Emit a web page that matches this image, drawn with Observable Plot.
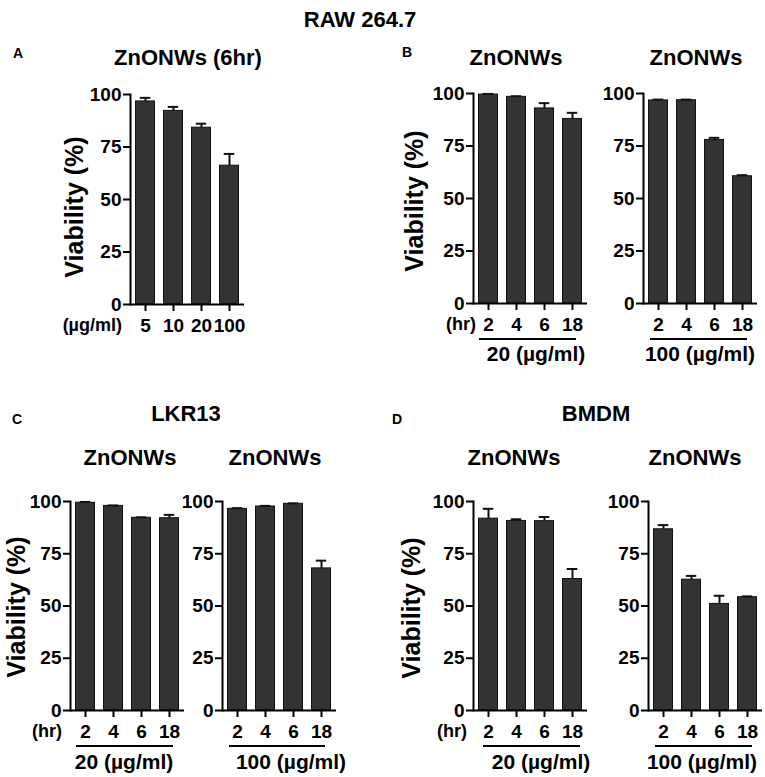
<!DOCTYPE html>
<html>
<head>
<meta charset="utf-8">
<script src="https://cdn.jsdelivr.net/npm/d3@7"></script>
<script src="https://cdn.jsdelivr.net/npm/@observablehq/plot@0.6"></script>
<style>
  body { margin: 0; background: #fff; }
  #fig { position: relative; width: 765px; height: 777px; background: #fff; overflow: hidden; }
  #fig svg { position: absolute; margin: 0; }
</style>
</head>
<body>
<div id="fig"></div>
<script>
// ---------- data ----------
const concLabels = ["5", "10", "20", "100"];          // µg/ml
const hourLabels = ["2", "4", "6", "18"];             // hr

const rawConcMean = [96.7, 92.2, 84.2, 66.1];
const rawConcSd   = [1.7, 1.9, 1.9, 5.6];

const raw20Mean  = [99.5, 98.4, 92.9, 87.9];
const raw20Sd    = [0.3, 0.3, 2.5, 2.9];
const raw100Mean = [96.7, 96.8, 77.9, 60.6];
const raw100Sd   = [0.4, 0.3, 1.0, 0.5];

const lkr20Mean  = [99.4, 97.9, 92.2, 92.0];
const lkr20Sd    = [0.4, 0.2, 0.2, 1.6];
const lkr100Mean = [96.5, 97.6, 98.9, 68.0];
const lkr100Sd   = [0.3, 0.3, 0.2, 3.7];

const bmdm20Mean  = [91.8, 90.7, 90.6, 62.9];
const bmdm20Sd    = [4.7, 0.8, 2.0, 4.8];
const bmdm100Mean = [86.7, 62.6, 51.0, 54.2];
const bmdm100Sd   = [2.0, 1.8, 3.9, 0.4];

const yTicks = [0, 25, 50, 75, 100];

// ---------- layout ----------
const FONT = '"Liberation Sans", Arial, sans-serif';
const panels = [
  {cats: concLabels, mean: rawConcMean, sd: rawConcSd, axisX: 130, y100: 94,  y0: 304},
  {cats: hourLabels, mean: raw20Mean,   sd: raw20Sd,   axisX: 473, y100: 93,  y0: 303},
  {cats: hourLabels, mean: raw100Mean,  sd: raw100Sd,  axisX: 643, y100: 93,  y0: 303},
  {cats: hourLabels, mean: lkr20Mean,   sd: lkr20Sd,   axisX: 70,  y100: 501, y0: 710},
  {cats: hourLabels, mean: lkr100Mean,  sd: lkr100Sd,  axisX: 222, y100: 501, y0: 710},
  {cats: hourLabels, mean: bmdm20Mean,  sd: bmdm20Sd,  axisX: 473, y100: 501, y0: 710},
  {cats: hourLabels, mean: bmdm100Mean, sd: bmdm100Sd, axisX: 648, y100: 501, y0: 710}
];

const fig = document.getElementById("fig");
const BAND = 114;

function makePanel(p) {
  const data = p.cats.map((c, i) => ({cat: c, mean: p.mean[i], hi: p.mean[i] + p.sd[i]}));
  const mL = 45, mR = 12, mT = 12, mB = 45;
  const chart = Plot.plot({
    width: mL + BAND + mR,
    height: mT + (p.y0 - p.y100) + mB,
    marginLeft: mL, marginRight: mR, marginTop: mT, marginBottom: mB,
    x: {type: "band", domain: p.cats, padding: 0, label: null},
    y: {domain: [0, 100], label: null},
    style: {background: "transparent", color: "#000", fontFamily: FONT, fontWeight: "bold", overflow: "visible"},
    marks: [
      Plot.barY(data, {x: "cat", y: "mean", fill: "#333333", stroke: "#111", strokeWidth: 1, insetLeft: 4.5, insetRight: 4.5}),
      Plot.ruleX(data, {x: "cat", y1: "mean", y2: "hi", stroke: "#111", strokeWidth: 2}),
      Plot.tickY(data, {x: "cat", y: "hi", stroke: "#111", strokeWidth: 2, insetLeft: 8.75, insetRight: 8.75}),
      Plot.axisY({ticks: yTicks, tickSize: 7, tickPadding: 2, fontSize: 19, fontWeight: "bold", strokeWidth: 2, label: null}),
      Plot.axisX({tickSize: 7, tickPadding: 6.5, fontSize: 19, fontWeight: "bold", strokeWidth: 2, label: null}),
      Plot.ruleY([0], {stroke: "#000", strokeWidth: 2}),
      Plot.frame({anchor: "left", stroke: "#000", strokeWidth: 2})
    ]
  });
  chart.style.left = (p.axisX - mL) + "px";
  chart.style.top = (p.y100 - mT) + "px";
  fig.appendChild(chart);
}
panels.forEach(makePanel);

// ---------- annotations ----------
const svg = d3.select(fig).append("svg")
  .attr("width", 765).attr("height", 777)
  .style("left", "0px").style("top", "0px")
  .style("pointer-events", "none")
  .attr("font-family", FONT).attr("font-weight", "bold").attr("fill", "#000");

function txt(s, x, y, size, anchor = "middle", rotate = false) {
  const t = svg.append("text").text(s).attr("font-size", size).attr("text-anchor", anchor);
  if (rotate) t.attr("transform", `translate(${x},${y}) rotate(-90)`);
  else t.attr("x", x).attr("y", y);
}
function line(x1, x2, y) {
  svg.append("line").attr("x1", x1).attr("x2", x2).attr("y1", y).attr("y2", y)
    .attr("stroke", "#000").attr("stroke-width", 2);
}

// group titles and panel letters
txt("RAW 264.7", 360, 27, 22);
txt("LKR13", 186, 421, 22);
txt("BMDM", 596, 421, 22);
txt("A", 13, 58, 14, "start");
txt("B", 402, 57, 14, "start");
txt("C", 12, 424, 14, "start");
txt("D", 392, 424, 14, "start");

// sub titles
txt("ZnONWs (6hr)", 188, 65, 22);
txt("ZnONWs", 516, 65, 22);
txt("ZnONWs", 696, 65, 22);
txt("ZnONWs", 130, 465, 22);
txt("ZnONWs", 275, 465, 22);
txt("ZnONWs", 514, 465, 22);
txt("ZnONWs", 695, 465, 22);

// y-axis titles
txt("Viability (%)", 83, 207, 25, "middle", true);
txt("Viability (%)", 423, 201, 25, "middle", true);
txt("Viability (%)", 25, 607, 25, "middle", true);
txt("Viability (%)", 420, 608, 25, "middle", true);

// x-axis unit labels
txt("(µg/ml)", 122, 331, 18, "end");
txt("(hr)", 476, 330, 18, "end");
txt("(hr)", 62, 737, 18, "end");
txt("(hr)", 467, 737, 18, "end");

// concentration brackets
line(473 + 6, 473 + 103, 339); txt("20 (µg/ml)", 536, 361, 21);
line(643 + 7, 643 + 104, 339); txt("100 (µg/ml)", 700, 361, 21);
line(70 + 6, 70 + 103, 746);   txt("20 (µg/ml)", 124, 769, 21);
line(222 + 7, 222 + 103, 746); txt("100 (µg/ml)", 291, 769, 21);
line(473 + 10, 473 + 107, 746); txt("20 (µg/ml)", 541, 769, 21);
line(648 + 7, 648 + 104, 746); txt("100 (µg/ml)", 702, 769, 21);
</script>
</body>
</html>
